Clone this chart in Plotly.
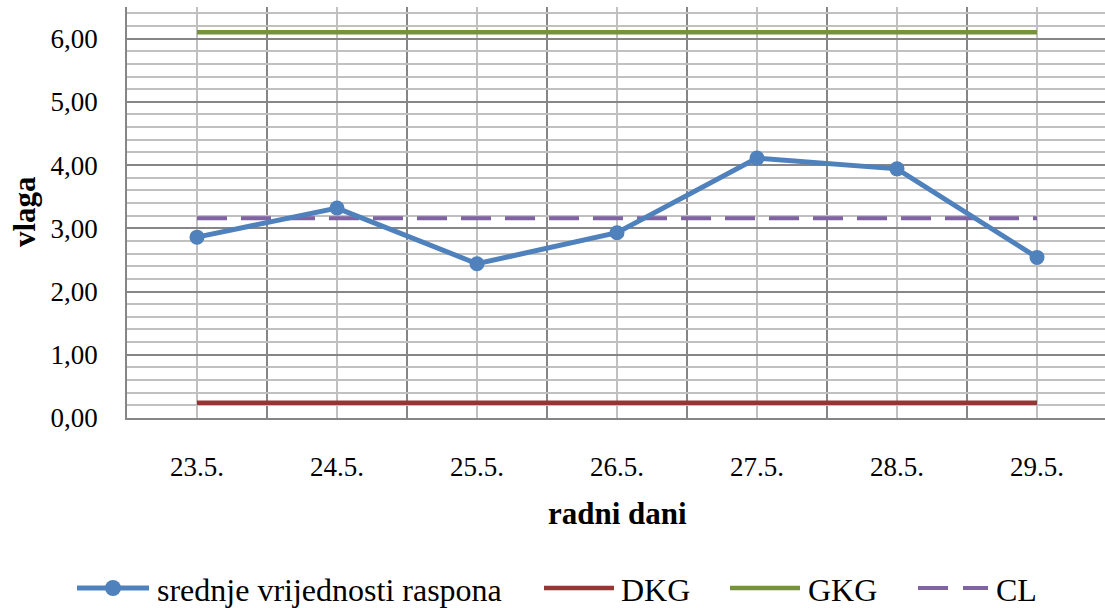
import plotly.graph_objects as go

# Working days and daily mean humidity values
days = ["23.5.", "24.5.", "25.5.", "26.5.", "27.5.", "28.5.", "29.5."]
srednje = [2.86, 3.32, 2.44, 2.93, 4.11, 3.94, 2.54]

# Control limits
dkg_value = 0.24
gkg_value = 6.10
cl_value = 3.16

dkg = [dkg_value] * len(days)
gkg = [gkg_value] * len(days)
cl = [cl_value] * len(days)

y_ticks = [0, 1, 2, 3, 4, 5, 6]

BLUE = "#4F81BD"
RED = "#943634"
GREEN = "#76923C"
PURPLE = "#8064A2"
GRID_MAJOR = "#868686"
GRID_MINOR = "#C0C0C0"
FONT = "Liberation Serif, Times New Roman, serif"

W, H = 1105, 608
ML, MR, MT, MB = 127, 0, 7, 190
PW = W - ML - MR
PH = H - MT - MB

xpos = list(range(len(days)))

fig = go.Figure()
fig.add_trace(go.Scatter(x=xpos, y=dkg, mode="lines", name="DKG",
                         line=dict(color=RED, width=4.5)))
fig.add_trace(go.Scatter(x=xpos, y=gkg, mode="lines", name="GKG",
                         line=dict(color=GREEN, width=4.5)))
fig.add_trace(go.Scatter(x=xpos, y=cl, mode="lines", name="CL",
                         line=dict(color=PURPLE, width=4, dash="30px,14px")))
fig.add_trace(go.Scatter(x=xpos, y=srednje, mode="lines+markers",
                         name="srednje vrijednosti raspona",
                         line=dict(color=BLUE, width=5),
                         marker=dict(color=BLUE, size=15)))


def px_x(p):
    return (p - ML) / PW


def px_y(p):
    return (H - MB - p) / PH


# Legend drawn as shapes and text beneath the chart
LEG_Y = 588
legend_items = [
    ("srednje vrijednosti raspona", BLUE, "solid", 77, 149, 155),
    ("DKG", RED, "solid", 544, 614, 619),
    ("GKG", GREEN, "solid", 730, 800, 806),
    ("CL", PURPLE, "dash", 918, 988, 994),
]
shapes = []
annotations = []
for name, color, style, x0, x1, xt in legend_items:
    if style == "dash":
        for a, b in [(x0, x0 + 30), (x0 + 45, x1)]:
            shapes.append(dict(type="line", xref="paper", yref="paper",
                               x0=px_x(a), x1=px_x(b), y0=px_y(LEG_Y), y1=px_y(LEG_Y),
                               line=dict(color=color, width=4)))
    else:
        shapes.append(dict(type="line", xref="paper", yref="paper",
                           x0=px_x(x0), x1=px_x(x1), y0=px_y(LEG_Y), y1=px_y(LEG_Y),
                           line=dict(color=color, width=5 if color == BLUE else 4.5)))
    annotations.append(dict(text=name, xref="paper", yref="paper",
                            x=px_x(xt), y=px_y(LEG_Y + 2), xanchor="left", yanchor="middle",
                            showarrow=False, font=dict(family=FONT, size=32, color="black")))

# marker in the first legend sample
mx, r = 113, 8
shapes.append(dict(type="circle", xref="paper", yref="paper",
                   x0=px_x(mx - r), x1=px_x(mx + r), y0=px_y(LEG_Y + r), y1=px_y(LEG_Y - r),
                   fillcolor=BLUE, line=dict(color=BLUE, width=0)))

# axis titles
annotations.append(dict(text="<b>vlaga</b>", xref="paper", yref="paper",
                        x=px_x(25), y=px_y(212), textangle=-90,
                        xanchor="center", yanchor="middle", showarrow=False,
                        font=dict(family=FONT, size=31, color="black")))
annotations.append(dict(text="<b>radni dani</b>", xref="paper", yref="paper",
                        x=px_x(617), y=px_y(513),
                        xanchor="center", yanchor="middle", showarrow=False,
                        font=dict(family=FONT, size=31, color="black")))

fig.update_layout(
    width=W, height=H,
    margin=dict(l=ML, r=MR, t=MT, b=MB, autoexpand=False),
    paper_bgcolor="white", plot_bgcolor="white",
    separators=",.",
    showlegend=False,
    font=dict(family=FONT, size=27, color="black"),
    shapes=shapes,
    annotations=annotations,
)

fig.update_xaxes(
    range=[-0.5, -0.5 + PW / 140.0],
    tickmode="array", tickvals=xpos, ticktext=days,
    ticks="", ticklabelstandoff=24,
    showgrid=True, gridcolor=GRID_MINOR, gridwidth=1.5,
    minor=dict(tick0=0.5, dtick=1, showgrid=True, gridcolor=GRID_MAJOR, gridwidth=1.5),
    showline=True, linecolor=GRID_MAJOR, linewidth=1.5,
    zeroline=False,
    tickfont=dict(family=FONT, size=27, color="black"),
)
fig.update_yaxes(
    range=[0, 6.5],
    tickmode="array", tickvals=y_ticks, tickformat=".2f",
    ticks="", ticklabelstandoff=22,
    showgrid=True, gridcolor=GRID_MAJOR, gridwidth=1.5,
    minor=dict(tick0=0, dtick=0.2, showgrid=True, gridcolor=GRID_MINOR, gridwidth=1.5),
    showline=True, linecolor=GRID_MAJOR, linewidth=1.5,
    zeroline=False,
    tickfont=dict(family=FONT, size=27, color="black"),
)

fig.write_html("out.html")
